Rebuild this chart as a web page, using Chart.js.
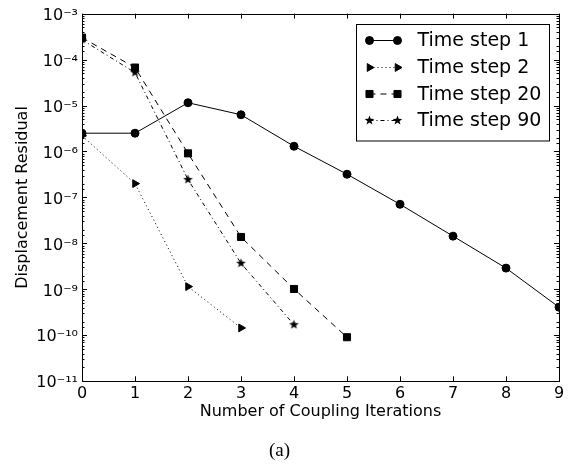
<!DOCTYPE html>
<html>
<head>
<meta charset="utf-8">
<script src="https://cdn.jsdelivr.net/npm/chart.js@4/dist/chart.umd.min.js"></script>
<style>
  html, body { margin: 0; padding: 0; background: #fff; }
  #wrap { width: 571px; height: 465px; position: relative; }
</style>
</head>
<body>
<div id="wrap"><canvas id="c" width="571" height="465"></canvas></div>
<script>
// ---- data ----
const iterations = [0, 1, 2, 3, 4, 5, 6, 7, 8, 9];
const xTickLabels = ['0', '1', '2', '3', '4', '5', '6', '7', '8', '9'];
const yTickExponents = [-11, -10, -9, -8, -7, -6, -5, -4, -3];
const yTickLabels = ['10⁻¹¹', '10⁻¹⁰', '10⁻⁹', '10⁻⁸', '10⁻⁷', '10⁻⁶', '10⁻⁵', '10⁻⁴', '10⁻³'];
const seriesNames = ['Time step 1', 'Time step 2', 'Time step 20', 'Time step 90'];
const timeStep1 = [2.5e-6, 2.5e-6, 1.15e-5, 6.3e-6, 1.3e-6, 3.2e-7, 7.1e-8, 1.44e-8, 2.9e-9, 4.1e-10];
const timeStep2 = [2.2e-6, 2.0e-7, 1.15e-9, 1.45e-10];
const timeStep20 = [3.0e-4, 6.7e-5, 9.1e-7, 1.38e-8, 1.02e-9, 9.1e-11];
const timeStep90 = [2.7e-4, 5.2e-5, 2.45e-7, 3.7e-9, 1.7e-10];

function pts(vals) { return vals.map((v, i) => ({ x: iterations[i], y: v })); }

// five-pointed star marker
function makeStar(size) {
  const c = document.createElement('canvas');
  c.width = size; c.height = size;
  const g = c.getContext('2d');
  const cx = size / 2, cy = size / 2, ro = size / 2 - 0.5, ri = ro * 0.42;
  g.beginPath();
  for (let k = 0; k < 10; k++) {
    const r = k % 2 === 0 ? ro : ri;
    const a = -Math.PI / 2 + k * Math.PI / 5;
    const px = cx + r * Math.cos(a), py = cy + r * Math.sin(a);
    if (k === 0) g.moveTo(px, py); else g.lineTo(px, py);
  }
  g.closePath();
  g.fillStyle = '#000';
  g.fill();
  return c;
}
const starImg = makeStar(11);

const FONT = 'DejaVu Sans';

function isPow10(v) {
  const l = Math.log10(v);
  return Math.abs(l - Math.round(l)) < 1e-6;
}

const frameTicks = {
  id: 'frameTicks',
  afterDraw(chart) {
    const { ctx, chartArea: a, scales: { x, y } } = chart;
    ctx.save();
    ctx.strokeStyle = '#000';
    ctx.lineWidth = 1;
    ctx.setLineDash([]);
    ctx.beginPath();
    x.ticks.forEach(t => {
      const px = Math.round(x.getPixelForValue(t.value)) + 0.5;
      ctx.moveTo(px, a.bottom); ctx.lineTo(px, a.bottom - 5);
      ctx.moveTo(px, a.top); ctx.lineTo(px, a.top + 5);
    });
    y.ticks.forEach(t => {
      const len = isPow10(t.value) ? 5 : 2.5;
      const py = Math.round(y.getPixelForValue(t.value)) + 0.5;
      ctx.moveTo(a.left, py); ctx.lineTo(a.left + len, py);
      ctx.moveTo(a.right, py); ctx.lineTo(a.right - len, py);
    });
    ctx.stroke();
    ctx.strokeRect(Math.round(a.left) + 0.5, Math.round(a.top) + 0.5,
                   Math.round(a.right) - Math.round(a.left), Math.round(a.bottom) - Math.round(a.top));

    // legend
    const bw = 193, bh = 116.5;
    const bx = Math.round(a.right - 10 - bw) + 0.5, by = Math.round(a.top + 10) + 0.5;
    ctx.fillStyle = '#fff';
    ctx.fillRect(bx, by, bw, bh);
    ctx.strokeRect(bx, by, bw, bh);
    const rows = [16, 43, 69.5, 96];
    chart.data.datasets.forEach((ds, i) => {
      const yy = by + rows[i];
      const x1 = bx + 13, x2 = bx + 41;
      ctx.save();
      ctx.strokeStyle = '#000';
      ctx.fillStyle = '#000';
      ctx.lineWidth = 1;
      ctx.setLineDash(ds.borderDash || []);
      ctx.beginPath(); ctx.moveTo(x1, yy); ctx.lineTo(x2, yy); ctx.stroke();
      ctx.setLineDash([]);
      const opts = { pointStyle: ds.pointStyle, rotation: ds.pointRotation || 0, radius: ds.pointRadius, borderWidth: 1 };
      Chart.helpers.drawPoint(ctx, opts, x1, yy);
      Chart.helpers.drawPoint(ctx, opts, x2, yy);
      ctx.restore();
      ctx.fillStyle = '#000';
      ctx.font = '19px "' + FONT + '"';
      ctx.textBaseline = 'middle';
      ctx.textAlign = 'left';
      ctx.fillText(ds.label, bx + 61, yy + 1);
    });
    ctx.restore();
  }
};

const common = { borderColor: '#000', backgroundColor: '#000', pointBackgroundColor: '#000',
  pointBorderColor: '#000', borderWidth: 1, pointBorderWidth: 1, tension: 0, clip: 0, fill: false };

new Chart(document.getElementById('c'), {
  type: 'line',
  data: {
    datasets: [
      Object.assign({}, common, { label: seriesNames[0], data: pts(timeStep1), pointStyle: 'circle', pointRadius: 4, borderDash: [] }),
      Object.assign({}, common, { label: seriesNames[1], data: pts(timeStep2), pointStyle: 'triangle', pointRotation: 90, pointRadius: 4.5, borderDash: [1, 3] }),
      Object.assign({}, common, { label: seriesNames[2], data: pts(timeStep20), pointStyle: 'rect', pointRadius: 5, borderDash: [6, 5] }),
      Object.assign({}, common, { label: seriesNames[3], data: pts(timeStep90), pointStyle: starImg, pointRadius: 5, borderDash: [4, 3, 1, 3] })
    ]
  },
  options: {
    responsive: false,
    animation: false,
    events: [],
    layout: { padding: { top: 12.5, right: 12, left: 0, bottom: 0 } },
    plugins: {
      legend: { display: false },
      tooltip: { enabled: false },
      title: {
        display: true, position: 'bottom', text: '(a)', color: '#000',
        font: { family: 'Liberation Serif', size: 19, weight: 'normal', lineHeight: 1.2 },
        padding: { top: 6, bottom: 3 }
      }
    },
    scales: {
      x: {
        type: 'linear', min: 0, max: 9,
        grid: { display: false, drawTicks: false },
        border: { display: false },
        ticks: {
          stepSize: 1, autoSkip: false, padding: 3, color: '#000',
          font: { family: FONT, size: 16 },
          callback: (v) => { const i = iterations.indexOf(v); return i >= 0 ? xTickLabels[i] : ''; }
        },
        title: { display: true, text: 'Number of Coupling Iterations', color: '#000',
          font: { family: FONT, size: 16 }, padding: { top: 0, bottom: 11.8 } },
        afterFit: (s) => { s.height = 51.9; }
      },
      y: {
        type: 'logarithmic', min: 1e-11, max: 1e-3,
        grid: { display: false, drawTicks: false },
        border: { display: false },
        ticks: {
          autoSkip: false, padding: 4, color: '#000', labelOffset: 2,
          font: { family: FONT, size: 16 },
          callback: (v) => {
            if (!isPow10(v)) return '';
            const e = Math.round(Math.log10(v));
            const i = yTickExponents.indexOf(e);
            return i >= 0 ? yTickLabels[i] : '';
          }
        },
        title: { display: true, text: 'Displacement Residual', color: '#000',
          font: { family: FONT, size: 16 }, padding: { top: 13, bottom: 0 } },
        afterFit: (s) => { s.width = 82; }
      }
    }
  },
  plugins: [frameTicks]
});
</script>
</body>
</html>
